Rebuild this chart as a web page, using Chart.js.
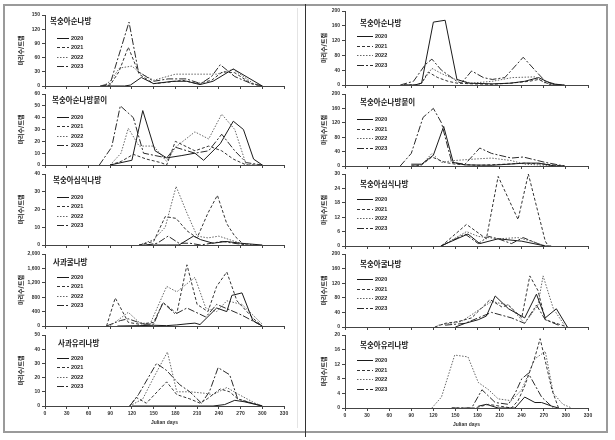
<!DOCTYPE html>
<html><head><meta charset="utf-8">
<script src="https://cdn.jsdelivr.net/npm/chart.js@4.4.1/dist/chart.umd.min.js"></script>
<style>
html,body{margin:0;padding:0;background:#fff;width:615px;height:440px;overflow:hidden;position:relative}
canvas{position:absolute}
.frame{position:absolute;border:2px solid #9a9a9a;left:3px;top:4px;width:601px;height:425px;box-sizing:content-box}
.divider{position:absolute;left:305px;top:4px;width:1px;height:433px;background:#333}
.inner{position:absolute;left:297px;top:8px;width:1px;height:420px;background:#e4e4e4}
</style></head><body>
<div class="frame"></div>
<div class="inner"></div>
<div class="divider"></div>
<script>
// ---------- DATA ----------
const years = ['2020','2021','2022','2023'];
const panelTitles = ['복숭아순나방','복숭아순나방붙이','복숭아심식나방','사과굴나방','사과유리나방',
                     '복숭아순나방','복숭아순나방붙이','복숭아심식나방','복숭아굴나방','복숭아유리나방'];
const yMaxes = [150,60,40,2000,50, 200,200,30,200,20];
const ySteps = [30,10,10,400,10, 40,40,6,40,4];
const xTicks = [0,30,60,90,120,150,180,210,240,270,300,330];

// Left column
const L1_2020_d=[80,110,118,133,150,177,196,214,232,260,300], L1_2020_v=[0,0,2,18,5,10,10,3,10,36,0];
const L1_2021_d=[80,90,102,115,130,150,170,190,210,230,245,262,285,300], L1_2021_v=[0,2,30,82,25,5,8,12,5,12,30,28,5,0];
const L1_2022_d=[80,90,103,120,131,150,173,180,237,260,288,300], L1_2022_v=[0,10,38,42,28,12,22,25,25,35,5,0];
const L1_2023_d=[76,90,116,129,150,170,195,215,230,242,262,285,300], L1_2023_v=[0,5,135,30,10,15,15,5,20,45,20,5,0];

const L2_2020_d=[90,120,135,152,168,189,207,219,242,260,274,288,300], L2_2020_v=[0,4,46,12,6,8,10,4,18,37,30,5,0];
const L2_2021_d=[90,105,122,140,160,168,180,207,226,244,260,278,300], L2_2021_v=[0,3,9,5,2,0,20,12,16,12,5,0,0];
const L2_2022_d=[90,105,115,130,150,168,180,207,226,244,262,278,300], L2_2022_v=[0,10,31,16,16,3,15,28,22,43,30,0,0];
const L2_2023_d=[75,92,104,122,136,152,168,180,207,226,244,262,278,300], L2_2023_v=[0,15,50,40,10,8,6,15,10,12,26,12,2,0];

const L3_2020_d=[130,150,168,185,205,215,232,250,270,300], L3_2020_v=[0,0,0,0,5,3,1,2,1,0];
const L3_2021_d=[130,150,166,181,196,210,225,238,251,262,275], L3_2021_v=[0,2,16,15,8,4,18,28,12,5,0];
const L3_2022_d=[130,150,166,181,196,210,225,240,255,270,290], L3_2022_v=[0,3,10,33,18,5,4,5,3,1,0];
const L3_2023_d=[140,155,170,185,200,215,230,245,260,280], L3_2023_v=[0,1,5,1,1,0,1,2,1,0];

const L4_2020_d=[100,130,150,168,182,196,207,214,237,251,258,272,287,300], L4_2020_v=[0,10,20,10,30,60,80,40,500,400,850,920,150,0];
const L4_2021_d=[85,97,115,130,150,163,182,196,210,225,237,251,265,288,300], L4_2021_v=[0,780,100,50,100,650,350,1700,600,400,1100,1500,700,200,0];
const L4_2022_d=[90,115,130,145,168,182,207,222,237,251,272,300], L4_2022_v=[0,380,100,50,1100,950,1350,500,400,700,600,50];
const L4_2023_d=[85,104,115,136,150,163,180,196,222,237,255,272,300], L4_2023_v=[0,150,200,50,50,650,330,500,250,600,450,300,0];

const L5_2020_d=[120,232,248,262,275,300], L5_2020_v=[0,0,1,4,3,0];
const L5_2021_d=[117,126,140,168,182,200,214,224,242,255,266,300], L5_2021_v=[0,6,2,17,8,5,2,5,12,10,5,0];
const L5_2022_d=[117,135,150,169,182,200,220,232,251,268,290,300], L5_2022_v=[0,5,20,38,10,10,9,8,13,8,2,0];
const L5_2023_d=[117,129,154,168,186,200,216,227,239,255,266,285,300], L5_2023_v=[0,8,30,25,15,10,2,10,27,22,5,2,0];

// Right column
const R1_2020_d=[80,95,104,120,136,152,168,200,225,244,263,281,298], R1_2020_v=[0,0,5,170,175,15,5,3,5,10,20,3,0];
const R1_2021_d=[80,95,104,113,126,140,152,175,200,225,250,263,280,298], R1_2021_v=[0,0,5,35,20,10,5,3,2,5,10,15,0,0];
const R1_2022_d=[80,95,104,118,132,150,172,200,227,258,272,290], R1_2022_v=[0,0,5,45,30,15,5,10,20,22,5,0];
const R1_2023_d=[75,93,109,118,131,152,158,172,188,200,217,242,258,272,290], R1_2023_v=[0,10,55,70,40,10,5,38,20,15,20,75,40,10,0];

const R2_2020_d=[90,104,120,134,147,163,200,244,263,285,298], R2_2020_v=[5,5,30,110,10,3,2,8,8,0,0];
const R2_2021_d=[90,104,118,136,150,181,217,244,272,298], R2_2021_v=[0,3,25,10,5,2,5,8,5,0];
const R2_2022_d=[90,104,118,131,147,181,199,226,244,272,298], R2_2022_v=[0,3,35,10,15,20,22,15,5,2,0];
const R2_2023_d=[75,90,106,120,131,145,163,183,199,226,242,272,298], R2_2023_v=[0,35,135,160,120,10,5,50,35,22,25,10,0];

const R3_2020_d=[130,167,183,208,240,272,280], R3_2020_v=[0,5,1,3,2,0,0];
const R3_2021_d=[131,165,192,208,235,249,272,276], R3_2021_v=[0,9,3,29,11,30,2,0];
const R3_2022_d=[131,165,181,208,235,253,272], R3_2022_v=[0,6,4,3,3.5,2,0];
const R3_2023_d=[131,163,181,195,208,226,242,262,272], R3_2023_v=[0,5,1,4,3,1,3.5,1,0];

const R4_2020_d=[150,163,181,192,204,222,244,260,272,287,302], R4_2020_v=[0,10,20,30,85,50,25,90,25,50,0];
const R4_2021_d=[122,136,154,172,197,213,222,240,251,262,272,302], R4_2021_v=[0,10,15,25,75,55,60,25,140,100,20,0];
const R4_2022_d=[127,158,199,222,244,262,269,283,298], R4_2022_v=[5,15,70,60,10,60,140,50,5];
const R4_2023_d=[136,163,199,226,244,260,272,290], R4_2023_v=[5,10,40,25,10,60,20,5];

const R5_2020_d=[181,192,208,231,244,258,267,281,290], R5_2020_v=[0.5,1,0,0,3,1.5,1.5,0.5,0];
const R5_2021_d=[145,176,195,226,235,244,258,265,281,290], R5_2021_v=[0,0,1,0,2,6,14,19,5,0];
const R5_2022_d=[118,131,149,167,181,195,208,226,240,258,272,283,296,308], R5_2022_v=[0,3,14.5,14,7,5,2.5,2,5,13.5,15.5,4,1,0];
const R5_2023_d=[145,172,186,204,222,231,240,249,267,283], R5_2023_v=[0,0,5,1.5,1,4,8,9.5,3,0];

const seriesDays = [
 [L1_2020_d,L1_2021_d,L1_2022_d,L1_2023_d],[L2_2020_d,L2_2021_d,L2_2022_d,L2_2023_d],
 [L3_2020_d,L3_2021_d,L3_2022_d,L3_2023_d],[L4_2020_d,L4_2021_d,L4_2022_d,L4_2023_d],
 [L5_2020_d,L5_2021_d,L5_2022_d,L5_2023_d],
 [R1_2020_d,R1_2021_d,R1_2022_d,R1_2023_d],[R2_2020_d,R2_2021_d,R2_2022_d,R2_2023_d],
 [R3_2020_d,R3_2021_d,R3_2022_d,R3_2023_d],[R4_2020_d,R4_2021_d,R4_2022_d,R4_2023_d],
 [R5_2020_d,R5_2021_d,R5_2022_d,R5_2023_d]];
const seriesVals = [
 [L1_2020_v,L1_2021_v,L1_2022_v,L1_2023_v],[L2_2020_v,L2_2021_v,L2_2022_v,L2_2023_v],
 [L3_2020_v,L3_2021_v,L3_2022_v,L3_2023_v],[L4_2020_v,L4_2021_v,L4_2022_v,L4_2023_v],
 [L5_2020_v,L5_2021_v,L5_2022_v,L5_2023_v],
 [R1_2020_v,R1_2021_v,R1_2022_v,R1_2023_v],[R2_2020_v,R2_2021_v,R2_2022_v,R2_2023_v],
 [R3_2020_v,R3_2021_v,R3_2022_v,R3_2023_v],[R4_2020_v,R4_2021_v,R4_2022_v,R4_2023_v],
 [R5_2020_v,R5_2021_v,R5_2022_v,R5_2023_v]];

// ---------- STYLE / LAYOUT ----------
const lineStyles = [
  {c:'#1a1a1a', dash:[]},
  {c:'#333333', dash:[3,2]},
  {c:'#666666', dash:[1.5,1.5]},
  {c:'#2a2a2a', dash:[7,2,2,2]}
];
const cols = [
  {canvasLeft:8, canvasW:290, chartLeft:45, chartRight:284, tops:[15,94,174,254,335], bots:[86,165,245,326,406],
   tx:[5,7,8,8,13], ty:[6,6,6,8,8], ly:23, lsp:9.3, lx0:12, lx1:24},
  {canvasLeft:311, canvasW:292, chartLeft:345, chartRight:588, tops:[11,94,174,254,335], bots:[85,166,246,327,408],
   tx:[15,15,15,15,15], ty:[12,8,10,10,10], ly:25, lsp:9.5, lx0:12, lx1:28}
];

const panelLegend = {
  id:'panelLegend',
  afterDatasetsDraw(chart, args, o){
    const {ctx, chartArea:a} = chart;
    ctx.save();
    ctx.fillStyle = '#1a1a1a';
    ctx.textBaseline = 'middle';
    ctx.textAlign = 'left';
    ctx.font = 'bold 7.5px "Noto Sans CJK KR"';
    ctx.fillText(o.title, a.left + o.tx, a.top + o.ty);
    chart.data.datasets.forEach((ds,i)=>{
      const y = Math.round(a.top + o.ly + i*o.lsp) + 0.5;
      ctx.strokeStyle = ds.borderColor; ctx.lineWidth = 1;
      ctx.setLineDash(ds.borderDash);
      ctx.beginPath(); ctx.moveTo(a.left+o.lx0, y); ctx.lineTo(a.left+o.lx1, y); ctx.stroke();
      ctx.setLineDash([]);
      ctx.font = 'bold 5.5px "Liberation Sans"';
      ctx.fillText(ds.label, a.left + o.lx1 + 2, y);
    });
    ctx.restore();
  }
};

for (let p=0;p<10;p++){
  const colIdx = p<5?0:1, row = p%5, col = cols[colIdx];
  const isBottom = row===4;
  const padTop = 8, bottomH = isBottom?20:6, padL = 9;
  const chartTop = col.tops[row], chartBot = col.bots[row];
  const H = (chartBot-chartTop) + padTop + bottomH;
  const cv = document.createElement('canvas');
  cv.width = col.canvasW; cv.height = H;
  cv.style.left = col.canvasLeft+'px'; cv.style.top = (chartTop-padTop)+'px';
  cv.style.width = col.canvasW+'px'; cv.style.height = H+'px';
  document.body.appendChild(cv);
  const datasets = years.map((yr,i)=>({
    label: yr,
    data: seriesDays[p][i].map((d,k)=>({x:d, y:seriesVals[p][i][k]})),
    borderColor: lineStyles[i].c, borderDash: lineStyles[i].dash,
    borderWidth: 1, pointRadius: 0, tension: 0, fill:false
  }));
  new Chart(cv, {
    type:'line',
    data:{datasets},
    plugins:[panelLegend],
    options:{
      responsive:false, animation:false, devicePixelRatio:1,
      layout:{padding:{left:padL, top:padTop, right: col.canvasLeft+col.canvasW-col.chartRight, bottom:0}},
      plugins:{
        legend:{display:false}, tooltip:{enabled:false},
        panelLegend:{title:panelTitles[p], tx:col.tx[row], ty:col.ty[row], ly:col.ly, lsp:col.lsp, lx0:col.lx0, lx1:col.lx1}
      },
      scales:{
        x:{type:'linear', min:0, max:330,
           afterBuildTicks: s=>{ s.ticks = xTicks.map(v=>({value:v})); },
           afterFit: s=>{ s.height = bottomH; },
           grid:{drawOnChartArea:false, drawTicks:true, tickLength:3, color:'#444'},
           border:{display:true, color:'#444', width:1},
           ticks:{display:isBottom, color:'#333', padding:2, maxRotation:0, autoSkip:false, font:{size:5, family:'"Liberation Sans"', weight:'bold'}},
           title:{display:isBottom, text:'Julian days', color:'#333', padding:{top:2,bottom:0}, font:{size:5, family:'"Liberation Sans"', weight:'bold'}}
        },
        y:{min:0, max:yMaxes[p],
           ticks:{stepSize:ySteps[p], color:'#333', padding:2, font:{size:5, family:'"Liberation Sans"', weight:'bold'}},
           afterFit: s=>{ s.width = col.chartLeft - col.canvasLeft - padL; },
           grid:{drawOnChartArea:false, drawTicks:true, tickLength:3, color:'#444'},
           border:{display:true, color:'#444', width:1},
           title:{display:true, text:'마리수/트랩', color:'#222', padding:0, font:{size:6, family:'"Noto Sans CJK KR"', weight:'bold'}}
        }
      }
    }
  });
}
</script>
</body></html>
